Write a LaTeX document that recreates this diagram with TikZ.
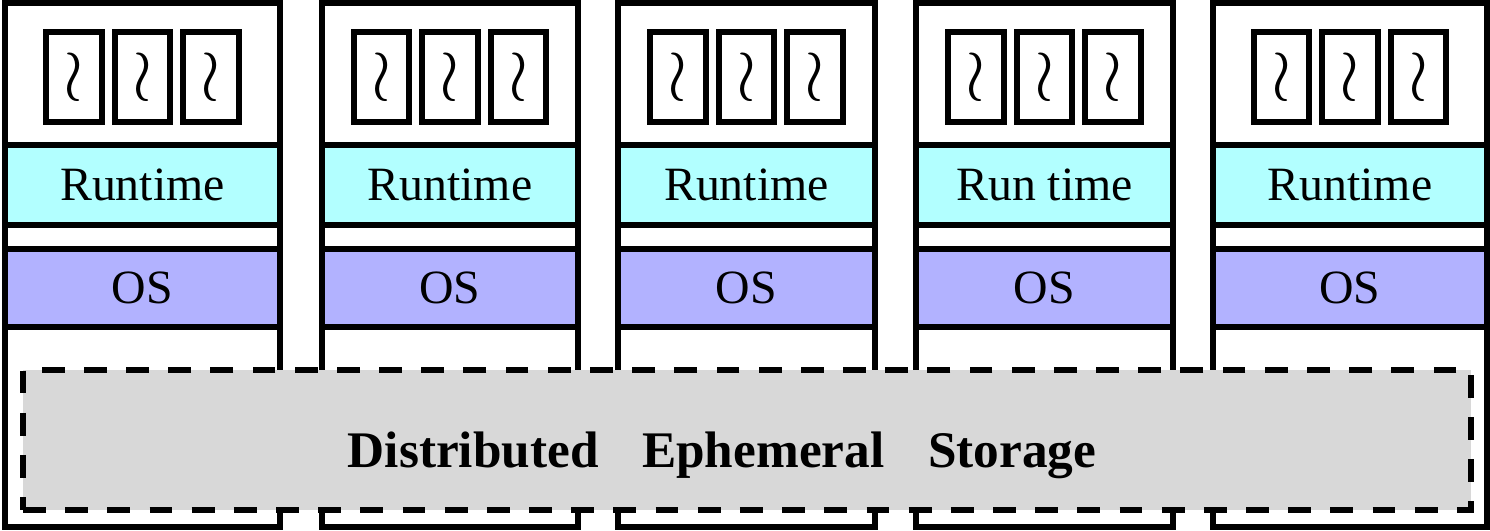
\documentclass[tikz,border=0pt]{standalone}
\usepackage{fontspec}
\setmainfont{Liberation Serif}
\definecolor{rtcyan}{RGB}{178,255,255}
\definecolor{oslav}{RGB}{178,178,255}
\definecolor{storegray}{RGB}{216,216,216}
\tikzset{
  layer/.style={draw, rectangle, inner sep=0pt, font=\fontsize{13.6}{16}\selectfont},
  proc/.style={draw, rectangle, inner sep=0pt, minimum width=0.555cm, minimum height=0.90cm, font=\fontsize{20}{22}\selectfont}
}
\begin{document}
\begin{tikzpicture}[line width=1.6pt]
    \useasboundingbox (0,0) rectangle (14.9,5.3);

    % one column per node: frame, three processes, runtime and OS
    \foreach \i/\l/\r/\rt in {1/0.05/2.80/Runtime, 2/3.22/5.78/Runtime, 3/6.18/8.75/Runtime,
                              4/9.16/11.73/Run time, 5/12.13/14.87/Runtime}{
      \pgfmathsetmacro{\cx}{(\l+\r)/2}
      \pgfmathsetmacro{\w}{\r-\l}
      \node[layer, minimum width=\w cm, minimum height=5.24cm] (col\i) at (\cx,2.65) {};
      \node[layer, fill=rtcyan, minimum width=\w cm, minimum height=0.80cm] (rt\i) at (\cx,3.45) {\rt};
      \node[layer, fill=oslav, minimum width=\w cm, minimum height=0.78cm] (os\i) at (\cx,2.42) {OS};
      \foreach \j in {-1,0,1}
        \node[proc] (p\i\j) at (\cx+\j*0.685,4.53) {$\wr$};
    }

    % shared storage drawn over the columns
    \node[draw, rectangle, dash pattern=on 6.5pt off 5.5pt, fill=storegray, inner sep=0pt,
          minimum width=14.48cm, minimum height=1.40cm] (store) at (7.47,0.90) {};
    \node[font=\fontsize{14.6}{17}\selectfont\bfseries] (storetext) at (7.22,0.75)
      {Distributed\hspace{0.85em}Ephemeral\hspace{0.85em}Storage};
\end{tikzpicture}
\end{document}
